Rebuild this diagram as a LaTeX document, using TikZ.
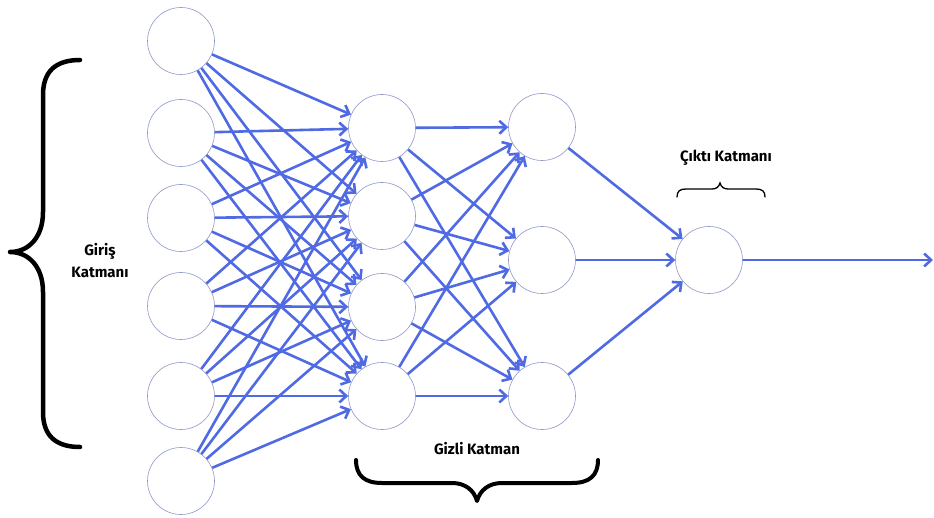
\documentclass[tikz,border=0pt]{standalone}
\usepackage{fontspec}
\newfontfamily\katfont{Fira Sans}
\usetikzlibrary{arrows.meta}
\definecolor{wireblue}{RGB}{80,106,228}
\definecolor{ringgray}{RGB}{140,150,200}
\tikzset{
  neuron/.style={circle, draw=ringgray, line width=0.6pt, minimum size=67pt, inner sep=0pt},
  link/.style={wireblue, line width=2.6pt, -{Straight Barb[length=7pt,width=13pt]}},
  brc/.style={line width=4.5pt, line cap=round, line join=round},
  lbl/.style={font=\katfont\bfseries\fontsize{15}{22}\selectfont, align=center}
}

\begin{document}
\begin{tikzpicture}[x=1pt,y=-1pt]
\useasboundingbox (0,0) rectangle (934,518);

% Input layer
\node[neuron] (in1) at (181,41) {};
\node[neuron] (in2) at (181,133) {};
\node[neuron] (in3) at (181,218) {};
\node[neuron] (in4) at (181,306) {};
\node[neuron] (in5) at (181,396) {};
\node[neuron] (in6) at (181,481) {};

% First hidden layer
\node[neuron] (hA1) at (382,128) {};
\node[neuron] (hA2) at (382,216) {};
\node[neuron] (hA3) at (382,307) {};
\node[neuron] (hA4) at (382,396) {};

% Second hidden layer
\node[neuron] (hB1) at (542,127) {};
\node[neuron] (hB2) at (542,260) {};
\node[neuron] (hB3) at (542,396) {};

% Output layer
\node[neuron] (out) at (709,260) {};
\coordinate (outend) at (933,260); % free end of the output arrow

% Input -> first hidden
\path[link] (in1) edge (hA1) edge (hA2) edge (hA3) edge (hA4);
\path[link] (in2) edge (hA1) edge (hA2) edge (hA3) edge (hA4);
\path[link] (in3) edge (hA1) edge (hA2) edge (hA3) edge (hA4);
\path[link] (in4) edge (hA1) edge (hA2) edge (hA3) edge (hA4);
\path[link] (in5) edge (hA1) edge (hA2) edge (hA3) edge (hA4);
\path[link] (in6) edge (hA1) edge (hA2) edge (hA3) edge (hA4);

% First hidden -> second hidden
\path[link] (hA1) edge (hB1) edge (hB2) edge (hB3);
\path[link] (hA2) edge (hB1) edge (hB2) edge (hB3);
\path[link] (hA3) edge (hB1) edge (hB2) edge (hB3);
\path[link] (hA4) edge (hB1) edge (hB2) edge (hB3);

% Second hidden -> output
\path[link] (hB1) edge (out) (hB2) edge (out) (hB3) edge (out);
\draw[link] (out) -- (outend);

% Left brace (input layer)
\draw[brc] (80,60) .. controls (55,60) and (43,72) .. (43,95) -- (43,212)
  .. controls (43,238) and (28,252) .. (10,252)
  .. controls (28,252) and (43,266) .. (43,292) -- (43,412)
  .. controls (43,435) and (55,447) .. (80,447);

% Bottom brace (hidden layers)
\draw[brc, line width=4pt] (356,460) .. controls (356,476) and (365,483) .. (382,483) -- (452,483)
  .. controls (465,483) and (474,490) .. (477,501)
  .. controls (480,490) and (489,483) .. (502,483) -- (572,483)
  .. controls (589,483) and (598,476) .. (598,460);

% Small brace (output layer)
\draw[line width=1.3pt, line cap=round] (677,197) .. controls (677,191) and (680,189) .. (686,189) -- (712,189)
  .. controls (716,189) and (719,187) .. (720,183)
  .. controls (721,187) and (724,189) .. (728,189) -- (756,189)
  .. controls (762,189) and (765,191) .. (765,197);

% Labels
\node[lbl] (inlbl) at (100,261) {Giriş\\Katmanı};
\node[lbl] (hidlbl) at (477,449) {Gizli Katman};
\node[lbl] (outlbl) at (726,158) {Çıktı Katmanı};

\end{tikzpicture}
\end{document}
